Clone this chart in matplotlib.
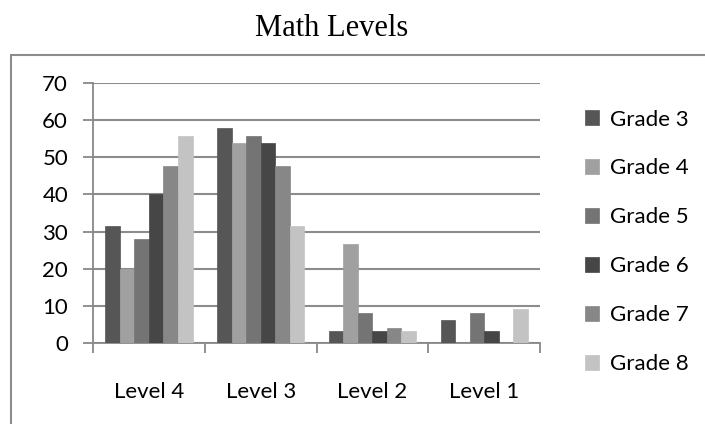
import numpy as np
import matplotlib.pyplot as plt
from matplotlib.patches import Rectangle

# datos
levels = ['Level 4', 'Level 3', 'Level 2', 'Level 1']
grades = ['Grade 3', 'Grade 4', 'Grade 5', 'Grade 6', 'Grade 7', 'Grade 8']
grade3 = [31.5, 58, 3.3, 6.2]
grade4 = [20, 53.8, 26.8, 0]
grade5 = [28, 55.8, 8.2, 8.2]
grade6 = [40, 53.8, 3.3, 3.3]
grade7 = [47.8, 47.8, 4, 0]
grade8 = [55.8, 31.5, 3.3, 9.2]
series = [grade3, grade4, grade5, grade6, grade7, grade8]
colors = ['#565656', '#a0a0a0', '#747474', '#464646', '#878787', '#c3c3c3']

fig = plt.figure(figsize=(7.05, 4.24), dpi=100)
ax = fig.add_axes([0.132, 0.191, 0.634, 0.613])

# marco del gráfico
fig.patches.append(Rectangle((11 / 705, -0.1), 1.2, 1 - 55 / 424 + 0.1,
                             transform=fig.transFigure, fill=False,
                             edgecolor='#8c8c8c', linewidth=1.5))

x = np.arange(len(levels))
w = 0.13
for i, (vals, name) in enumerate(zip(series, grades)):
    ax.bar(x + (i - 2.5) * w, vals, w, color=colors[i], label=name,
           edgecolor=colors[i], linewidth=0.5, zorder=3)

ax.set_xlim(-0.5, 3.5)
ax.set_ylim(0, 70)
ax.set_yticks(range(0, 71, 10))
ax.set_xticks(x)
ax.set_xticklabels(levels)
ax.set_xticks(np.arange(-0.5, 4, 1), minor=True)
ax.tick_params(axis='x', which='major', length=0, pad=28)
ax.tick_params(axis='x', which='minor', length=7, color='#888888', width=1.3)
ax.tick_params(axis='y', length=7, color='#888888', width=1.3, pad=11)
for lab in ax.get_xticklabels() + ax.get_yticklabels():
    lab.set_fontfamily('Lato')
    lab.set_fontsize(16)
ax.grid(axis='y', color='#8c8c8c', linewidth=1.5, zorder=0)
for s in ['top', 'right']:
    ax.spines[s].set_visible(False)
ax.spines['left'].set_color('#888888')
ax.spines['bottom'].set_color('#888888')
ax.spines['left'].set_linewidth(1.3)
ax.spines['bottom'].set_linewidth(1.3)

fig.text(0.471, 0.932, 'Math Levels', ha='center', va='center',
         family='Liberation Serif', fontsize=22)

leg = ax.legend(loc='upper left', bbox_to_anchor=(1.055, 0.975), frameon=False,
                prop={'family': 'Lato', 'size': 16},
                handlelength=0.65, handleheight=0.65, handletextpad=0.5,
                labelspacing=1.3)

plt.savefig('out.png', dpi=100)
